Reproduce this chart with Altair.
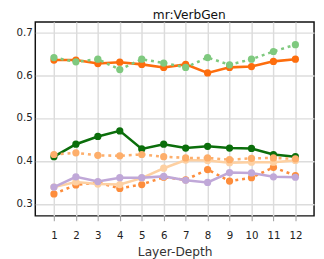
import altair as alt
import pandas as pd

layers = list(range(1, 13))

# series (draw order: first is drawn at the bottom)
names = ["orange-dotted", "peach-solid", "lavender", "darkgreen", "peach-dotted", "orange-solid", "green-dotted"]
colors = ["#fd8d3c", "#fdd0a2", "#c0a8d8", "#0b6e0b", "#fdae6b", "#fd6d0d", "#7fc97f"]
dotted = [True, False, False, False, True, False, True]

orange_dotted = [0.323, 0.344, 0.350, 0.336, 0.345, 0.362, 0.356, 0.380, 0.353, 0.361, 0.385, 0.366]
peach_solid = [0.339, 0.351, 0.346, 0.345, 0.360, 0.383, 0.402, 0.401, 0.396, 0.397, 0.397, 0.401]
lavender = [0.339, 0.363, 0.352, 0.361, 0.361, 0.364, 0.355, 0.350, 0.373, 0.372, 0.363, 0.362]
darkgreen = [0.410, 0.439, 0.457, 0.470, 0.428, 0.439, 0.430, 0.434, 0.430, 0.429, 0.415, 0.410]
peach_dotted = [0.415, 0.419, 0.413, 0.412, 0.415, 0.410, 0.407, 0.407, 0.403, 0.406, 0.407, 0.405]
orange_solid = [0.635, 0.635, 0.627, 0.630, 0.625, 0.618, 0.625, 0.605, 0.618, 0.620, 0.632, 0.637]
green_dotted = [0.641, 0.631, 0.637, 0.613, 0.637, 0.628, 0.618, 0.641, 0.624, 0.637, 0.655, 0.671]

values = [orange_dotted, peach_solid, lavender, darkgreen, peach_dotted, orange_solid, green_dotted]

x_ticks = layers
y_ticks = [0.3, 0.4, 0.5, 0.6, 0.7]

xscale = alt.Scale(domain=[0.15, 12.85], nice=False, zero=False)
yscale = alt.Scale(domain=[0.272, 0.724], nice=False, zero=False)

xaxis = alt.Axis(values=x_ticks, title="Layer-Depth", grid=True, gridColor="#dcdcdc", gridWidth=1.5,
                 tickColor="#999999", tickSize=5, tickWidth=1, labelPadding=10, domain=False,
                 labelFont="DejaVu Sans", labelFontSize=10.5, labelColor="#222222",
                 titleFont="DejaVu Sans", titleFontSize=12.5, titleFontWeight="normal",
                 titleColor="#333333", titlePadding=5, labelAngle=0)
yaxis = alt.Axis(values=y_ticks, format=".1f", title=None, grid=True, gridColor="#dcdcdc", gridWidth=1.5,
                 ticks=False, labelPadding=3, domain=False,
                 labelFont="DejaVu Sans", labelFontSize=10.5, labelColor="#222222")

charts = []
for i, (name, col, dot, vals) in enumerate(zip(names, colors, dotted, values)):
    df = pd.DataFrame({"layer": layers, "value": vals, "series": name})
    line_kwargs = dict(color=col, strokeWidth=2.6, strokeCap="butt")
    if dot:
        line_kwargs["strokeDash"] = [3, 4]
    base = alt.Chart(df)
    x = alt.X("layer:Q", scale=xscale, axis=xaxis)
    y = alt.Y("value:Q", scale=yscale, axis=yaxis)
    ln = base.mark_line(**line_kwargs).encode(x=x, y=y)
    pt = base.mark_circle(color=col, size=55, opacity=1).encode(x=x, y=y)
    charts += [ln, pt]

chart = alt.layer(*charts).properties(
    width=286, height=199,
    title=alt.TitleParams("mr:VerbGen", font="DejaVu Sans", fontSize=12.5, fontWeight="normal",
                          color="#111111", anchor="middle", dx=15, offset=-13, baseline="bottom"),
    autosize=alt.AutoSizeParams(type="none"),
    padding={"left": 28, "top": 11, "right": 2, "bottom": 41},
).configure(
    background="white",
    view=alt.ViewConfig(stroke="#111111", strokeWidth=1.5),
)

chart.save("out.html", embed_options={"renderer": "svg", "actions": False})
